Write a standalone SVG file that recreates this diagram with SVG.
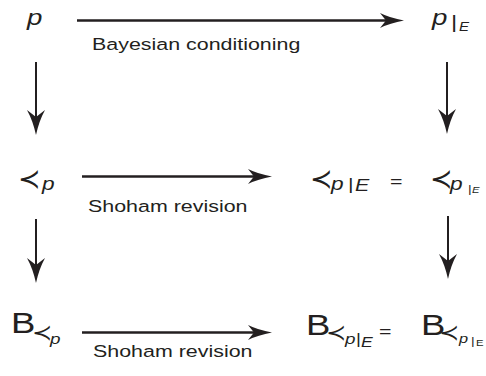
<svg xmlns="http://www.w3.org/2000/svg" width="486" height="376" viewBox="0 0 486 376">
<style>
.t{font-family:"Liberation Sans",Arial,sans-serif;font-size:17px;fill:#231f20}
.m{font-family:"Liberation Sans",Arial,sans-serif;font-style:italic;fill:#231f20}
.r{font-family:"Liberation Sans",Arial,sans-serif;fill:#231f20}
.s{font-family:"DejaVu Sans",sans-serif;font-weight:200;fill:#231f20}
.h{stroke:#231f20;stroke-width:2.6;fill:none}
.v{stroke:#231f20;stroke-width:2;fill:none}
</style>
<defs>
<marker id="ah" markerUnits="userSpaceOnUse" orient="auto" markerWidth="30" markerHeight="20" refX="0" refY="0" viewBox="-14 -10 30 20" overflow="visible">
<path d="M12,0 Q-2,-2.5 -12,-7.5 L-6,0 L-12,7.5 Q-2,2.5 12,0 Z" fill="#231f20"/>
</marker>
<marker id="av" markerUnits="userSpaceOnUse" orient="auto" markerWidth="30" markerHeight="20" refX="0" refY="0" viewBox="-16 -10 30 20" overflow="visible">
<path d="M12,0 Q-2,-3 -13,-9 L-6,0 L-13,9 Q-2,3 12,0 Z" fill="#231f20"/>
</marker>
</defs>
<g id="connectors">
<line class="h" x1="77" y1="20.5" x2="392" y2="20.5" marker-end="url(#ah)"/>
<line class="h" x1="82" y1="176.5" x2="260" y2="176.5" marker-end="url(#ah)"/>
<line class="h" x1="82" y1="332.5" x2="260" y2="332.5" marker-end="url(#ah)"/>
<line class="v" x1="36" y1="62" x2="36" y2="123" marker-end="url(#av)"/>
<line class="v" x1="447" y1="62" x2="447" y2="122" marker-end="url(#av)"/>
<line class="v" x1="36" y1="219" x2="36" y2="271" marker-end="url(#av)"/>
<line class="v" x1="448" y1="216" x2="448" y2="267" marker-end="url(#av)"/>
<g transform="translate(92 50) scale(1.26 1)"><text class="t">Bayesian conditioning</text></g>
<g transform="translate(88 212) scale(1.26 1)"><text class="t">Shoham revision</text></g>
<g transform="translate(93 357) scale(1.26 1)"><text class="t">Shoham revision</text></g>
</g>
<g id="n-p">
<g transform="translate(27 25) scale(1.26 1)"><text class="m" font-size="22">p</text></g>
</g>
<g id="n-pE">
<g transform="translate(432 25) scale(1.26 1)"><text class="m" font-size="22">p</text></g>
<g transform="translate(451 28) scale(1.26 1)"><text class="r" font-size="19">|</text></g>
<g transform="translate(459 31) scale(1.26 1)"><text class="m" font-size="12">E</text></g>
</g>
<g id="n-prec">
<text class="s" font-size="27" x="18" y="188">≺</text>
<g transform="translate(42 190) scale(1.26 1)"><text class="m" font-size="18">p</text></g>
</g>
<g id="n-precE">
<text class="s" font-size="27" x="310" y="188">≺</text>
<g transform="translate(331 190) scale(1.26 1)"><text class="m" font-size="18">p</text></g>
<g transform="translate(348 190) scale(1.26 1)"><text class="r" font-size="17">|</text></g>
<g transform="translate(355 191) scale(1.26 1)"><text class="m" font-size="17">E</text></g>
<g transform="translate(390 187) scale(1.26 1)"><text class="r" font-size="17">=</text></g>
<text class="s" font-size="27" x="430" y="188">≺</text>
<g transform="translate(450 190) scale(1.26 1)"><text class="m" font-size="18">p</text></g>
<g transform="translate(468 193) scale(1.26 1)"><text class="r" font-size="11">|</text></g>
<g transform="translate(472 193) scale(1.26 1)"><text class="m" font-size="9">E</text></g>
</g>
<g id="n-B">
<g transform="translate(11 333) scale(1.26 1)"><text class="r" font-size="29">B</text></g>
<g transform="translate(32 340) scale(1.1 1)"><text class="s" font-size="22">≺</text></g>
<g transform="translate(50 344) scale(1.26 1)"><text class="m" font-size="15">p</text></g>
</g>
<g id="n-BE">
<g transform="translate(306 335) scale(1.26 1)"><text class="r" font-size="29">B</text></g>
<g transform="translate(326 340) scale(1.1 1)"><text class="s" font-size="22">≺</text></g>
<g transform="translate(345 344) scale(1.26 1)"><text class="m" font-size="15">p</text></g>
<g transform="translate(356 344) scale(1.26 1)"><text class="r" font-size="15">|</text></g>
<g transform="translate(361 347) scale(1.26 1)"><text class="m" font-size="14">E</text></g>
<g transform="translate(379 337) scale(1.26 1)"><text class="r" font-size="17">=</text></g>
<g transform="translate(421 335) scale(1.26 1)"><text class="r" font-size="29">B</text></g>
<g transform="translate(439 340) scale(1.1 1)"><text class="s" font-size="22">≺</text></g>
<g transform="translate(459 343) scale(1.26 1)"><text class="m" font-size="13">p</text></g>
<g transform="translate(471 345) scale(1.26 1)"><text class="r" font-size="11">|</text></g>
<g transform="translate(476 346) scale(1.26 1)"><text class="r" font-size="9">E</text></g>
</g>
</svg>
